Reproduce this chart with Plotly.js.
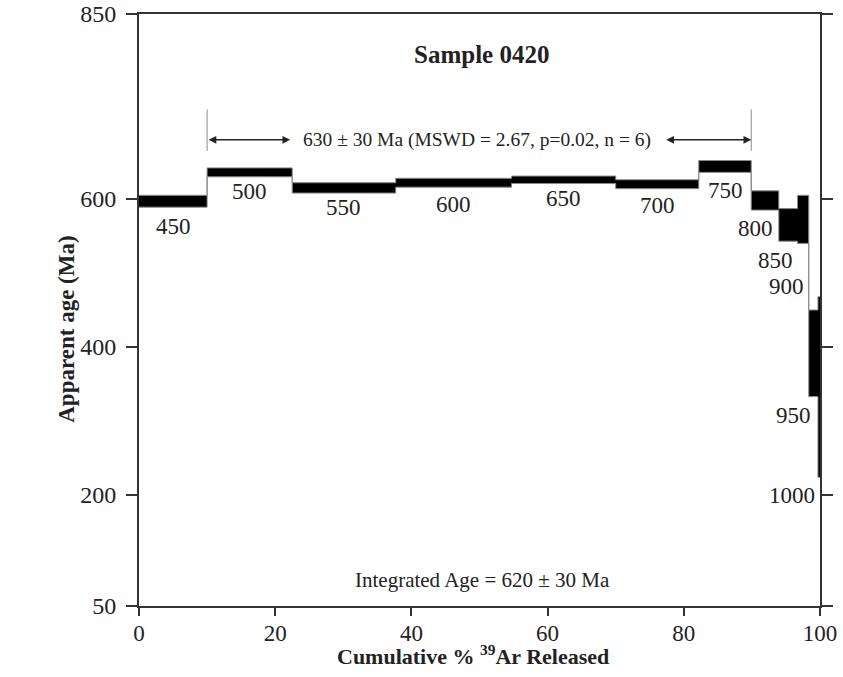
<!DOCTYPE html>
<html>
<head>
<meta charset="utf-8">
<script src="https://cdn.plot.ly/plotly-3.0.1.min.js"></script>
<style>html,body{margin:0;padding:0;background:#fff;}#chart{width:843px;height:677px;}</style>
</head>
<body>
<div id="chart"></div>
<script>
// ---- data ----
const stepTemps = ['450','500','550','600','650','700','750','800','850','900','950','1000'];
const cumEnd    = [10.0, 22.5, 37.7, 54.7, 70.0, 82.2, 89.9, 93.95, 96.7, 98.35, 99.7, 100];
const age       = [597, 636, 615, 622, 626, 620, 644, 598, 565, 572.5, 391.5, 346];
const err       = [8, 6, 7, 6, 5, 6, 8, 13, 22, 32.5, 58.5, 122];
const plateauFirst = 1, plateauLast = 6; // steps 500..750
const plateauText = '630 ± 30 Ma (MSWD = 2.67, p=0.02, n = 6)';
const integratedText = 'Integrated Age = 620 ± 30 Ma';
const sampleTitle = 'Sample 0420';
const xTicks = [0, 20, 40, 60, 80, 100];
const yTicks = [50, 200, 400, 600, 850];

// ---- build step outlines ----
const edges = [0].concat(cumEnd);
const lo = age.map((a, i) => a - err[i]);
const hi = age.map((a, i) => a + err[i]);
const loY = lo.concat([lo[lo.length - 1]]);
const hiY = hi.concat([hi[hi.length - 1]]);

const FONT = 'Liberation Serif, Times New Roman, serif';
const INK = '#222';

const traces = [
  {x: edges, y: loY, mode: 'lines', line: {shape: 'hv', color: '#8a8a8a', width: 1}, hoverinfo: 'skip', showlegend: false},
  {x: edges, y: hiY, mode: 'lines', line: {shape: 'hv', color: '#8a8a8a', width: 1}, fill: 'tonexty', fillcolor: '#000', hoverinfo: 'skip', showlegend: false}
];

// label placement (layout choices, in axis units)
const labelPlace = [
  {dx: 0, y: 563, anchor: 'center'},
  {dx: 0, y: 610, anchor: 'center'},
  {dx: 0, y: 588, anchor: 'center'},
  {dx: 0, y: 593, anchor: 'center'},
  {dx: 0, y: 601, anchor: 'center'},
  {dx: 0, y: 591, anchor: 'center'},
  {dx: 0, y: 612, anchor: 'center'},
  {x: 90.5, y: 560, anchor: 'center'},
  {x: 93.4, y: 517, anchor: 'center'},
  {x: 97.9, y: 482, anchor: 'right'},
  {x: 98.9, y: 308, anchor: 'right'},
  {x: 99.5, y: 200, anchor: 'right'}
];

const annotations = [];
stepTemps.forEach((t, i) => {
  const p = labelPlace[i];
  const cx = p.x !== undefined ? p.x : (edges[i] + edges[i + 1]) / 2 + p.dx;
  annotations.push({x: cx, y: p.y, xref: 'x', yref: 'y', text: t, showarrow: false,
    xanchor: p.anchor, yanchor: 'middle', font: {family: FONT, size: 23, color: INK}});
});

const pStart = edges[plateauFirst];
const pEnd = edges[plateauLast + 1];
const arrowY = 680;
annotations.push({x: 22.2, y: arrowY, ax: pStart, ay: arrowY, xref: 'x', yref: 'y', axref: 'x', ayref: 'y',
  text: '', showarrow: true, arrowside: 'end+start', arrowhead: 2, arrowsize: 1.1, arrowwidth: 1.4, arrowcolor: INK});
annotations.push({x: pEnd, y: arrowY, ax: 77.2, ay: arrowY, xref: 'x', yref: 'y', axref: 'x', ayref: 'y',
  text: '', showarrow: true, arrowside: 'end+start', arrowhead: 2, arrowsize: 1.1, arrowwidth: 1.4, arrowcolor: INK});
annotations.push({x: 49.6, y: arrowY, xref: 'x', yref: 'y', text: plateauText, showarrow: false,
  xanchor: 'center', yanchor: 'middle', font: {family: FONT, size: 19.5, color: INK}});
annotations.push({x: 50.5, y: 85, xref: 'x', yref: 'y', text: integratedText, showarrow: false,
  xanchor: 'center', yanchor: 'middle', font: {family: FONT, size: 21, color: INK}});
annotations.push({x: 50.3, y: 795, xref: 'x', yref: 'y', text: '<b>' + sampleTitle + '</b>', showarrow: false,
  xanchor: 'center', yanchor: 'middle', font: {family: FONT, size: 25, color: INK}});
// axis titles
annotations.push({x: -0.106, y: 0.468, xref: 'paper', yref: 'paper', text: '<b>Apparent age (Ma)</b>', textangle: -90,
  showarrow: false, xanchor: 'center', yanchor: 'middle', font: {family: FONT, size: 23, color: INK}});
annotations.push({x: 0.491, y: -0.083, xref: 'paper', yref: 'paper', text: '<b>Cumulative % <sup>39</sup>Ar Released</b>',
  showarrow: false, xanchor: 'center', yanchor: 'middle', font: {family: FONT, size: 22, color: INK}});

const shapes = [
  {type: 'line', xref: 'x', yref: 'y', x0: pStart, x1: pStart, y0: 665, y1: 721, line: {color: '#8a8a8a', width: 1}},
  {type: 'line', xref: 'x', yref: 'y', x0: pEnd, x1: pEnd, y0: 665, y1: 721, line: {color: '#8a8a8a', width: 1}}
];

const layout = {
  width: 843, height: 677,
  margin: {l: 138.5, r: 22.5, t: 13.5, b: 71},
  paper_bgcolor: '#fff', plot_bgcolor: '#fff',
  showlegend: false,
  xaxis: {range: [0, 100], tickvals: xTicks, ticktext: xTicks.map(String), ticks: 'outside', ticklen: 8, tickwidth: 2,
    tickcolor: '#333', showline: true, linecolor: '#333', linewidth: 2, mirror: true, showgrid: false, zeroline: false,
    tickfont: {family: FONT, size: 23, color: INK}, ticklabelstandoff: -3, fixedrange: true},
  yaxis: {range: [50, 850], tickvals: yTicks, ticktext: yTicks.map(String), ticks: 'outside', ticklen: 11, tickwidth: 2,
    tickcolor: '#333', showline: true, linecolor: '#333', linewidth: 2, mirror: 'ticks', showgrid: false, zeroline: false,
    tickfont: {family: FONT, size: 24, color: INK}, ticklabelstandoff: 5, fixedrange: true},
  annotations: annotations,
  shapes: shapes
};

Plotly.newPlot('chart', traces, layout, {displayModeBar: false, staticPlot: true});
</script>
</body>
</html>
